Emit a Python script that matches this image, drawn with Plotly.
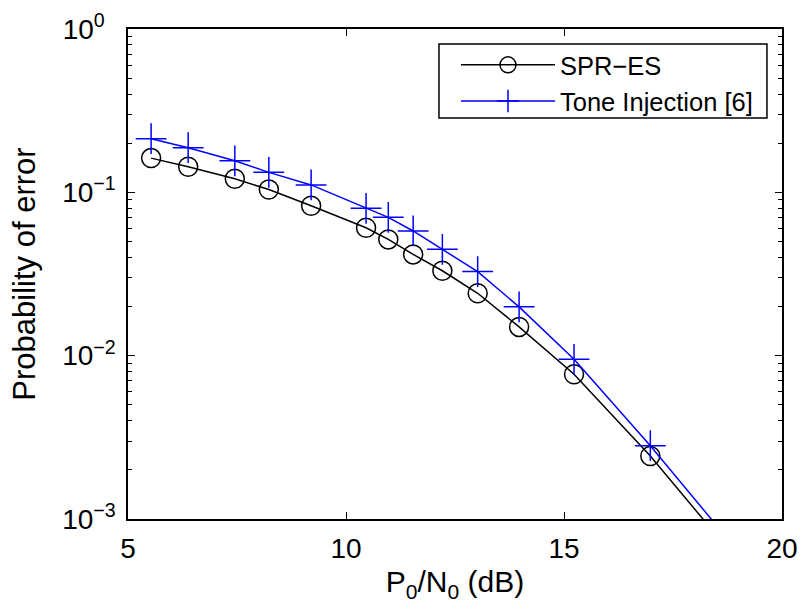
import plotly.graph_objects as go

# Data
snr_db = [5.53, 6.38, 7.45, 8.23, 9.20, 10.46, 10.97, 11.54, 12.21, 13.02, 13.97, 15.23, 16.98, 19.0]
pe_spr_es = [0.162, 0.1435, 0.121, 0.104, 0.0828, 0.0607, 0.0515, 0.0417, 0.0331, 0.0241, 0.0150, 0.0077, 0.00243, 0.00055]
pe_tone_inj = [0.213, 0.1876, 0.156, 0.1325, 0.111, 0.0798, 0.0703, 0.058, 0.0448, 0.0327, 0.0199, 0.0095, 0.00281, 0.00063]

series_names = ["SPR\u2212ES", "Tone Injection [6]"]
x_tickvals = [5, 10, 15, 20]
y_tickvals = [1e-3, 1e-2, 1e-1, 1e0]
y_ticktext = ["10<sup>\u22123</sup>", "10<sup>\u22122</sup>", "10<sup>\u22121</sup>", "10<sup>0\u00a0\u00a0</sup>"]
y_minor_vals = [m * 10.0 ** e for e in (-3, -2, -1) for m in range(2, 10)]

FONT = "Liberation Sans, Arial, sans-serif"

fig = go.Figure()
fig.add_trace(go.Scatter(
    x=snr_db, y=pe_spr_es, name=series_names[0], mode="lines+markers",
    line=dict(color="black", width=1.5),
    marker=dict(symbol="circle-open", size=19, color="black", line=dict(width=1.5, color="black")),
))
fig.add_trace(go.Scatter(
    x=snr_db, y=pe_tone_inj, name=series_names[1], mode="lines+markers",
    line=dict(color="#0000ff", width=1.5),
    marker=dict(symbol="cross-thin-open", size=22, color="#0000ff", line=dict(width=1.5, color="#0000ff")),
))

axis_common = dict(
    showline=True, linecolor="black", linewidth=1.5, mirror="ticks",
    ticks="inside", tickcolor="black", tickwidth=1, ticklen=7,
    showgrid=False, zeroline=False,
    tickfont=dict(family=FONT, size=28, color="black"),
)

fig.update_xaxes(
    range=[5, 20], tickvals=x_tickvals, ticktext=[str(v) for v in x_tickvals],
    title=dict(text="P<sub>0</sub>/N<sub>0</sub> (dB)", font=dict(family=FONT, size=30, color="black"), standoff=8),
    ticklabelstandoff=4,
    **axis_common,
)
fig.update_yaxes(
    type="log", range=[-3, 0], tickvals=y_tickvals, ticktext=y_ticktext,
    title=dict(text="Probability of error", font=dict(family=FONT, size=31, color="black"), standoff=17),
    minor=dict(ticks="inside", ticklen=4, tickcolor="black", tickwidth=1, showgrid=False, tickvals=y_minor_vals),
    ticklabelstandoff=5,
    **axis_common,
)

# legend frame (pixel box 439..767 x 44..118 inside plot area 128..782 x 29..519)
fig.add_shape(
    type="rect", xref="paper", yref="paper",
    x0=0.4755, x1=0.977, y0=0.8184, y1=0.9694,
    line=dict(color="black", width=1.5), fillcolor="white", layer="above",
)

fig.update_layout(
    width=803, height=616,
    margin=dict(l=128, r=21, t=29, b=97, autoexpand=False),
    paper_bgcolor="white", plot_bgcolor="white",
    showlegend=True,
    legend=dict(
        x=0.5015, y=0.974, xanchor="left", yanchor="top",
        bgcolor="rgba(0,0,0,0)", borderwidth=0,
        font=dict(family=FONT, size=25.5, color="black"),
        itemwidth=94, tracegroupgap=0,
    ),
)

fig.write_html("out.html")
